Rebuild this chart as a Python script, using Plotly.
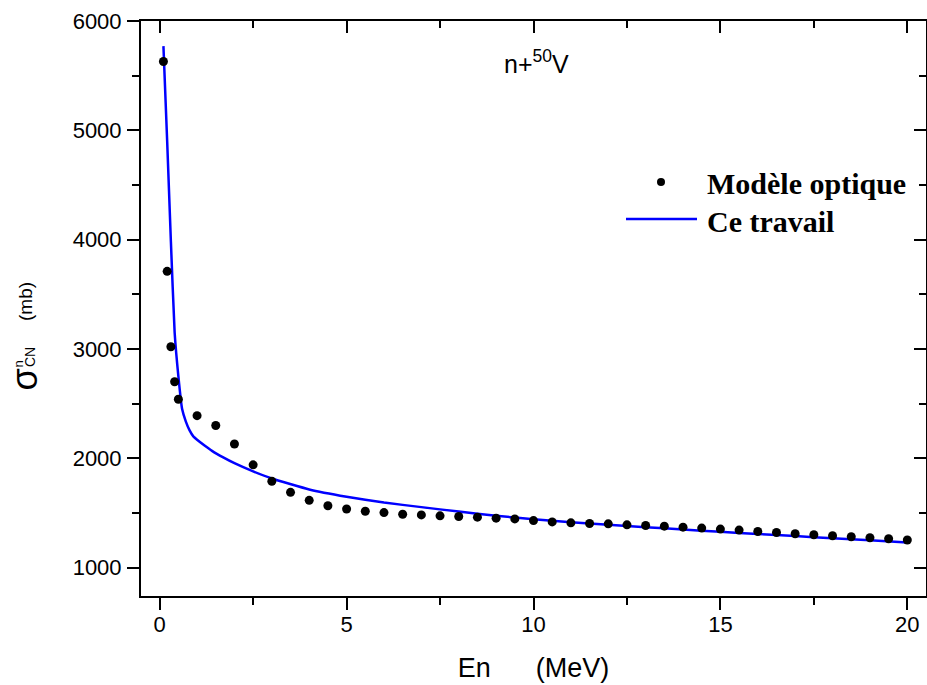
import plotly.graph_objects as go

# Optical-model points: neutron energy (MeV) and compound-nucleus cross-section (mb)
E_opt = [0.1, 0.2, 0.3, 0.4, 0.5,
         1.0, 1.5, 2.0, 2.5, 3.0, 3.5, 4.0, 4.5, 5.0, 5.5, 6.0, 6.5, 7.0, 7.5,
         8.0, 8.5, 9.0, 9.5, 10.0, 10.5, 11.0, 11.5, 12.0, 12.5, 13.0, 13.5,
         14.0, 14.5, 15.0, 15.5, 16.0, 16.5, 17.0, 17.5, 18.0, 18.5, 19.0,
         19.5, 20.0]
sigma_opt = [5630, 3710, 3020, 2700, 2540,
             2390, 2300, 2130, 1940, 1790, 1688, 1615, 1566, 1536, 1515, 1503,
             1488, 1482, 1473, 1467, 1461, 1452, 1445, 1430, 1418, 1409, 1403,
             1400, 1391, 1385, 1379, 1370, 1361, 1352, 1343, 1330, 1321, 1309,
             1300, 1291, 1282, 1273, 1264, 1252]

# Present-work curve
E_fit = [0.1, 0.2, 0.3, 0.4, 0.5, 0.6, 0.7, 0.8, 0.9, 1.0, 1.2, 1.4, 1.7, 2.0,
         2.5, 3.0, 4.0, 5.0, 6.0, 7.0, 8.0, 9.0, 10.0, 11.0, 12.0, 13.0, 14.0,
         15.0, 16.0, 17.0, 18.0, 19.0, 20.0]
sigma_fit = [5770, 4900, 3980, 3150, 2750, 2450, 2335, 2255, 2200, 2170, 2117,
             2068, 2008, 1955, 1880, 1815, 1715, 1648, 1595, 1553, 1512, 1474,
             1442, 1415, 1392, 1370, 1348, 1327, 1307, 1288, 1269, 1249, 1230]

x_ticks = [0, 5, 10, 15, 20]
y_ticks = [1000, 2000, 3000, 4000, 5000, 6000]
x_range = [-0.5, 20.5]
y_range = [740, 6000]

W, H = 927, 685
ML, MR, MT, MB = 141, 1, 21, 89
PW, PH = W - ML - MR, H - MT - MB


def px(x):
    return (x - ML) / PW


def py(y):
    return (H - MB - y) / PH


SANS = "Liberation Sans, Arial, sans-serif"
SERIF = "Liberation Serif, Times New Roman, serif"

fig = go.Figure()

fig.add_trace(go.Scatter(
    x=E_fit, y=sigma_fit, mode="lines", name="Ce travail",
    line=dict(color="#0000FF", width=2.5, shape="spline", smoothing=0.4),
    showlegend=False,
))
fig.add_trace(go.Scatter(
    x=E_opt, y=sigma_opt, mode="markers", name="Modèle optique",
    marker=dict(color="black", size=9),
    showlegend=False,
))
# empty trace so the mirrored top/right axes are drawn
fig.add_trace(go.Scatter(x=[], y=[], xaxis="x2", yaxis="y2",
                         showlegend=False, hoverinfo="skip"))

axis_common = dict(showgrid=False, zeroline=False, showline=True,
                   linecolor="black", linewidth=2, tickcolor="black",
                   tickwidth=2)

fig.update_layout(
    width=W, height=H,
    margin=dict(l=ML, r=MR, t=MT, b=MB),
    paper_bgcolor="white", plot_bgcolor="white",
    font=dict(family=SANS, color="black"),
    xaxis=dict(range=x_range, tickvals=x_ticks, ticks="outside", ticklen=12,
               tickfont=dict(family=SANS, size=22), ticklabelstandoff=-4,
               minor=dict(dtick=2.5, tick0=0, ticks="outside", ticklen=7,
                          tickwidth=2, tickcolor="black"),
               title=dict(text="En&nbsp;&nbsp;&nbsp;&nbsp;&nbsp;&nbsp;(MeV)",
                          font=dict(family=SANS, size=27), standoff=22),
               **axis_common),
    yaxis=dict(range=y_range, tickvals=y_ticks, ticks="outside", ticklen=12,
               tickfont=dict(family=SANS, size=22), ticklabelstandoff=1,
               minor=dict(dtick=500, tick0=0, ticks="outside", ticklen=7,
                          tickwidth=2, tickcolor="black"),
               **axis_common),
    xaxis2=dict(range=x_range, overlaying="x", side="top", anchor="y",
                tickvals=x_ticks, ticks="inside", ticklen=12,
                showticklabels=False,
                minor=dict(dtick=2.5, tick0=0, ticks="inside", ticklen=7,
                           tickwidth=2, tickcolor="black"),
                **axis_common),
    yaxis2=dict(range=y_range, overlaying="y", side="right", anchor="x",
                tickvals=y_ticks, ticks="inside", ticklen=12,
                showticklabels=False,
                minor=dict(dtick=500, tick0=0, ticks="inside", ticklen=7,
                           tickwidth=2, tickcolor="black"),
                **axis_common),
)

# y-axis title built from pieces: sigma, stacked n / CN, and unit
ytitle = [
    ("σ", 23.5, 380, 36),
    ("n", 18.5, 364, 13),
    ("CN", 29.5, 357.5, 14),
    ("(mb)", 25, 302, 19),
]
for txt, xx, yy, fs in ytitle:
    fig.add_annotation(text=txt, x=px(xx), y=py(yy), xref="paper", yref="paper",
                       textangle=-90, showarrow=False, xanchor="center",
                       yanchor="middle", font=dict(family=SANS, size=fs))

# reaction label
fig.add_annotation(text="n+<sup>50</sup>V", x=px(536.5), y=py(62),
                   xref="paper", yref="paper", showarrow=False,
                   xanchor="center", yanchor="middle",
                   font=dict(family=SANS, size=25))

# legend
fig.add_shape(type="circle", xref="paper", yref="paper",
              xsizemode="pixel", ysizemode="pixel",
              xanchor=px(661), yanchor=py(182),
              x0=-4, x1=4, y0=-4, y1=4,
              fillcolor="black", line=dict(width=0))
fig.add_shape(type="line", xref="paper", yref="paper",
              x0=px(626), x1=px(697), y0=py(219), y1=py(219),
              line=dict(color="#0000FF", width=2.5))
fig.add_annotation(text="<b>Modèle optique</b>", x=px(705), y=py(183),
                   xref="paper", yref="paper", showarrow=False,
                   xanchor="left", yanchor="middle",
                   font=dict(family=SERIF, size=30))
fig.add_annotation(text="<b>Ce travail</b>", x=px(705), y=py(221),
                   xref="paper", yref="paper", showarrow=False,
                   xanchor="left", yanchor="middle",
                   font=dict(family=SERIF, size=30))

fig.write_html("out.html")
